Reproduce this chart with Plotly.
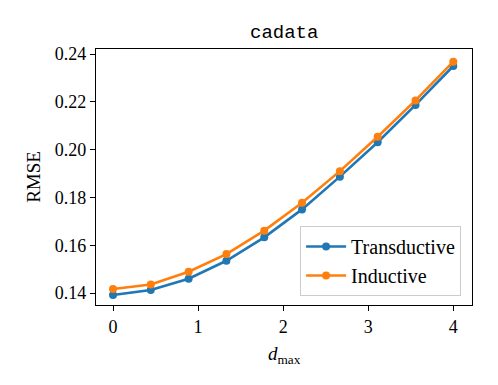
import plotly.graph_objects as go

# d_max values on the x axis
d_max = [0.0, 0.444, 0.889, 1.333, 1.778, 2.222, 2.667, 3.111, 3.556, 4.0]

# RMSE per setting
rmse_transductive = [0.1392, 0.1413, 0.1460, 0.1535, 0.1633, 0.1750, 0.1887, 0.2031, 0.2187, 0.2350]
rmse_inductive = [0.1417, 0.1436, 0.1489, 0.1563, 0.1661, 0.1778, 0.1910, 0.2054, 0.2206, 0.2368]

x_ticks = [0, 1, 2, 3, 4]
y_ticks = [0.14, 0.16, 0.18, 0.20, 0.22, 0.24]

SERIF = "Liberation Serif, DejaVu Serif, serif"
MONO = "Liberation Mono, DejaVu Sans Mono, monospace"

fig = go.Figure()
fig.add_trace(go.Scatter(
    x=d_max, y=rmse_transductive, name="Transductive",
    mode="lines+markers",
    line=dict(color="#1f77b4", width=2.6),
    marker=dict(color="#1f77b4", size=8),
))
fig.add_trace(go.Scatter(
    x=d_max, y=rmse_inductive, name="Inductive",
    mode="lines+markers",
    line=dict(color="#ff7f0e", width=2.6),
    marker=dict(color="#ff7f0e", size=8),
))

axis_common = dict(
    showline=True, mirror=True, linecolor="black", linewidth=1.2,
    ticks="outside", ticklen=5, tickwidth=1.2, tickcolor="black",
    showgrid=False, zeroline=False, automargin=False,
    tickfont=dict(family=SERIF, size=18, color="black"),
)

# page body adds an 8px offset, so the figure is 8px smaller than the window
fig.update_layout(
    width=490, height=377,
    margin=dict(l=88, r=26, t=41, b=80),
    plot_bgcolor="white", paper_bgcolor="white",
    font=dict(family=SERIF, color="black"),
    xaxis=dict(
        range=[-0.2, 4.22], tickvals=x_ticks, ticktext=[str(t) for t in x_ticks],
        **axis_common,
    ),
    yaxis=dict(
        range=[0.1350, 0.2421], tickvals=y_ticks, ticktext=[f"{t:.2f}" for t in y_ticks],
        **axis_common,
    ),
    legend=dict(
        x=0.971, y=0.035, xanchor="right", yanchor="bottom",
        bgcolor="rgba(255,255,255,0.8)", bordercolor="#cccccc", borderwidth=1,
        font=dict(family=SERIF, size=20, color="black"),
        itemwidth=40, tracegroupgap=0,
    ),
    annotations=[
        dict(text="cadata", xref="paper", yref="paper", x=0.5, y=1.0625,
             xanchor="center", yanchor="middle", showarrow=False,
             font=dict(family=MONO, size=19, color="black")),
        dict(text="<i>d</i><sub>max</sub>", xref="paper", yref="paper",
             x=0.5, y=-0.195, xanchor="center", yanchor="middle", showarrow=False,
             font=dict(family=SERIF, size=19, color="black")),
        dict(text="RMSE", xref="paper", yref="paper", x=-0.168, y=0.5,
             xanchor="center", yanchor="middle", textangle=-90, showarrow=False,
             font=dict(family=SERIF, size=19, color="black")),
    ],
)

fig.write_html("out.html")
